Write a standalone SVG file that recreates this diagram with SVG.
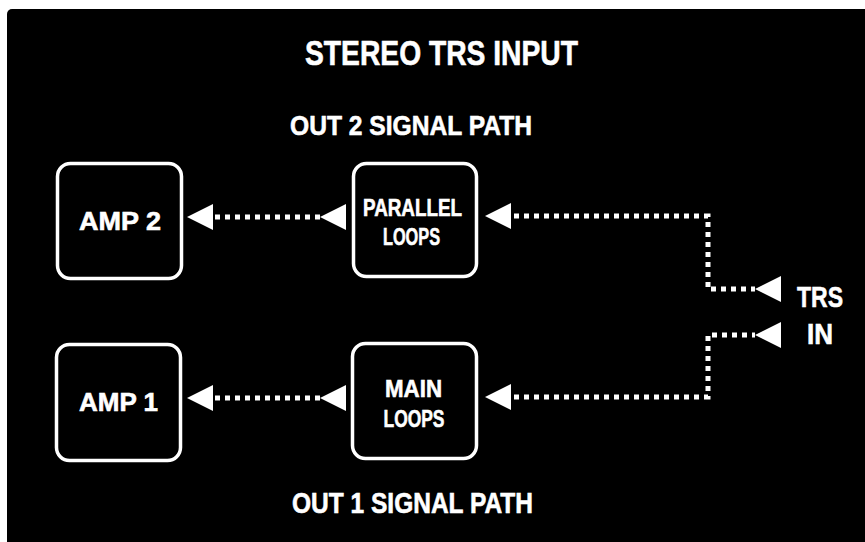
<svg xmlns="http://www.w3.org/2000/svg" xmlns:xlink="http://www.w3.org/1999/xlink" width="865" height="542" viewBox="0 0 865 542">
<style>
.box{fill:#000;stroke:#fff;stroke-width:3.5}
.t{fill:#fff;stroke:#fff;stroke-width:0.6;font-family:"Liberation Sans Narrow","Liberation Sans",Arial,sans-serif;font-weight:bold;text-anchor:middle}
.dot{fill:none;stroke:#fff;stroke-width:5;stroke-dasharray:5 5}
.ah{fill:#fff}
</style>
<defs>
<polygon id="ah" class="ah" points="0,0 26,-13 26,13"/>
</defs>
<rect x="0" y="0" width="865" height="542" fill="#fff"/>
<rect x="7" y="9" width="880" height="560" rx="5" fill="#000"/>
<g id="titles">
<text class="t" x="441.5" y="65" font-size="35" textLength="273" lengthAdjust="spacingAndGlyphs">STEREO TRS INPUT</text>
<text class="t" x="411" y="135" font-size="28.5" textLength="242" lengthAdjust="spacingAndGlyphs">OUT 2 SIGNAL PATH</text>
<text class="t" x="412.5" y="513" font-size="29" textLength="241" lengthAdjust="spacingAndGlyphs">OUT 1 SIGNAL PATH</text>
</g>
<g id="amp2">
<rect class="box" x="57.5" y="163.5" width="124" height="115" rx="13"/>
<text class="t" x="120" y="230" font-size="25.5" textLength="82" lengthAdjust="spacingAndGlyphs">AMP 2</text>
</g>
<g id="parallel-loops">
<rect class="box" x="353.5" y="163.5" width="123" height="113" rx="13"/>
<text class="t" x="412.5" y="216" font-size="24" textLength="99" lengthAdjust="spacingAndGlyphs">PARALLEL</text>
<text class="t" x="411.5" y="245" font-size="24" textLength="57" lengthAdjust="spacingAndGlyphs">LOOPS</text>
</g>
<g id="amp1">
<rect class="box" x="56.5" y="344.5" width="124" height="116" rx="13"/>
<text class="t" x="118.5" y="411" font-size="26" textLength="79" lengthAdjust="spacingAndGlyphs">AMP 1</text>
</g>
<g id="main-loops">
<rect class="box" x="352.5" y="343.5" width="124" height="115" rx="13"/>
<text class="t" x="413.5" y="397" font-size="24.5" textLength="57" lengthAdjust="spacingAndGlyphs">MAIN</text>
<text class="t" x="414" y="427" font-size="24.5" textLength="61" lengthAdjust="spacingAndGlyphs">LOOPS</text>
</g>
<g id="trs-in">
<text class="t" x="820" y="307" font-size="30" textLength="46" lengthAdjust="spacingAndGlyphs">TRS</text>
<text class="t" x="820" y="344" font-size="29" textLength="26" lengthAdjust="spacingAndGlyphs">IN</text>
</g>
<g id="connectors">
<path class="dot" d="M215,217 H320"/>
<path class="dot" d="M514,216 H708 V289 H755"/>
<path class="dot" d="M514,397 H708 V335 H755"/>
<path class="dot" d="M215,398 H320"/>
<use href="#ah" x="187" y="217"/>
<use href="#ah" x="320" y="217"/>
<use href="#ah" x="485" y="216"/>
<use href="#ah" x="755" y="289"/>
<use href="#ah" x="755" y="335"/>
<use href="#ah" x="187" y="398"/>
<use href="#ah" x="320" y="398"/>
<use href="#ah" x="485" y="397"/>
</g>
</svg>
